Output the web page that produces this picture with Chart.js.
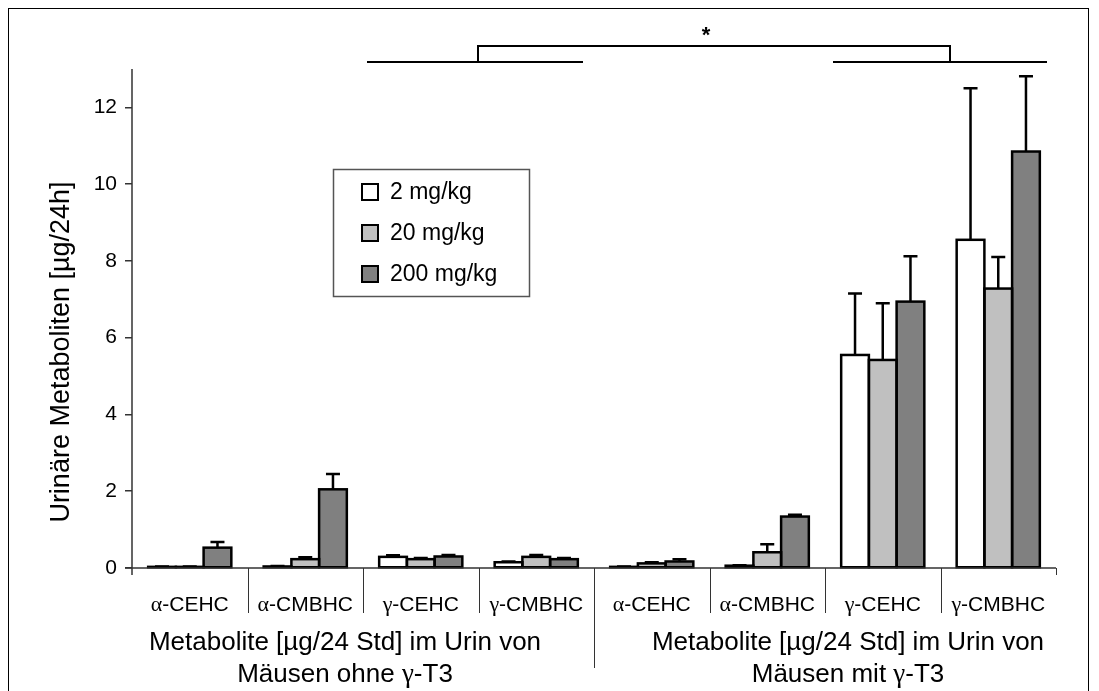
<!DOCTYPE html>
<html>
<head>
<meta charset="utf-8">
<script src="https://cdn.jsdelivr.net/npm/chart.js@4.4.1/dist/chart.umd.min.js"></script>
<style>
  body { margin: 0; background: #fff; }
  #wrap { width: 1099px; height: 691px; }
</style>
</head>
<body>
<div id="wrap"><canvas id="chart" width="1099" height="691"></canvas></div>
<script>
// Urinary metabolites per dose group, mice without / with gamma-T3
const categories = ['α-CEHC', 'α-CMBHC', 'γ-CEHC', 'γ-CMBHC', 'α-CEHC', 'α-CMBHC', 'γ-CEHC', 'γ-CMBHC'];
const groupLabels = [
  ['Metabolite [µg/24 Std] im Urin von', 'Mäusen ohne γ-T3'],
  ['Metabolite [µg/24 Std] im Urin von', 'Mäusen mit γ-T3']
];
const seriesNames = ['2 mg/kg', '20 mg/kg', '200 mg/kg'];

const dose2   = [0.03, 0.04, 0.29, 0.15, 0.03, 0.06, 5.55, 8.55];
const dose20  = [0.03, 0.23, 0.23, 0.29, 0.12, 0.41, 5.42, 7.28];
const dose200 = [0.53, 2.05, 0.30, 0.23, 0.17, 1.34, 6.94, 10.85];

// upper standard deviation
const err2   = [0.01, 0.01, 0.04, 0.02, 0.01, 0.01, 1.60, 3.95];
const err20  = [0.01, 0.05, 0.03, 0.05, 0.03, 0.21, 1.48, 0.82];
const err200 = [0.15, 0.40, 0.04, 0.03, 0.06, 0.05, 1.18, 1.96];

const yTicks = [0, 2, 4, 6, 8, 10, 12];
const yTitle = 'Urinäre Metaboliten [µg/24h]';

const colors = ['#ffffff', '#c0c0c0', '#808080'];
const SANS = '"Liberation Sans", Arial, sans-serif';
const SERIF = '"Liberation Serif", "Times New Roman", serif';

const errors = [err2, err20, err200];

// bar outlines centred on the edges (Excel style) + upper error bars
const barExtras = {
  id: 'barExtras',
  afterDatasetsDraw(chart) {
    const ctx = chart.ctx;
    const y = chart.scales.y;
    ctx.save();
    ctx.strokeStyle = '#000';
    ctx.lineWidth = 2.5;
    ctx.lineJoin = 'miter';
    chart.data.datasets.forEach((ds, i) => {
      chart.getDatasetMeta(i).data.forEach(bar => {
        const p = bar.getProps(['x', 'y', 'base', 'width'], true);
        ctx.strokeRect(p.x - p.width / 2, p.y, p.width, p.base - p.y);
      });
    });
    chart.data.datasets.forEach((ds, i) => {
      chart.getDatasetMeta(i).data.forEach((bar, j) => {
        const top = y.getPixelForValue(ds.data[j] + errors[i][j]);
        ctx.beginPath();
        ctx.moveTo(bar.x, bar.y);
        ctx.lineTo(bar.x, top);
        ctx.moveTo(bar.x - 7, top);
        ctx.lineTo(bar.x + 7, top);
        ctx.stroke();
      });
    });
    ctx.restore();
  }
};

// axes, category labels, group labels, legend, bracket, frame
const decorations = {
  id: 'decorations',
  afterDraw(chart) {
    const ctx = chart.ctx;
    const area = chart.chartArea;
    const x = chart.scales.x;
    const n = categories.length;
    const catW = (area.right - area.left) / n;
    const base = area.bottom;
    ctx.save();

    // frame
    ctx.strokeStyle = '#000';
    ctx.lineWidth = 1;
    ctx.strokeRect(8.5, 8.5, 1080, 720);

    // axes
    ctx.strokeStyle = '#333';
    ctx.lineWidth = 1.5;
    ctx.beginPath();
    ctx.moveTo(area.left - 7, base);
    ctx.lineTo(area.right, base);
    ctx.moveTo(area.left, area.top);
    ctx.lineTo(area.left, base + 7);
    ctx.stroke();

    // category separators
    ctx.lineWidth = 1;
    ctx.beginPath();
    for (let k = 1; k <= n; k++) {
      const xp = Math.round(area.left + k * catW) + 0.5;
      let len = 45;
      if (k === n / 2) len = 100;
      if (k === n) len = 7;
      ctx.moveTo(xp, base);
      ctx.lineTo(xp, base + len);
    }
    ctx.stroke();

    // category labels, greek letter in serif
    ctx.fillStyle = '#000';
    ctx.textBaseline = 'alphabetic';
    ctx.textAlign = 'left';
    categories.forEach((c, i) => {
      const cx = x.getPixelForValue(i);
      const greek = c.charAt(0);
      const rest = c.slice(1);
      ctx.font = '22px ' + SERIF;
      const gw = ctx.measureText(greek).width;
      ctx.font = '21px ' + SANS;
      const rw = ctx.measureText(rest).width;
      let sx = cx - (gw + rw) / 2;
      ctx.font = '22px ' + SERIF;
      ctx.fillText(greek, sx, 611);
      ctx.font = '21px ' + SANS;
      ctx.fillText(rest, sx + gw, 611);
    });

    // group labels (second line contains greek gamma)
    const groupCenters = [345, 848];
    groupLabels.forEach((lines, g) => {
      ctx.font = '26px ' + SANS;
      ctx.textAlign = 'center';
      ctx.fillText(lines[0], groupCenters[g], 650);
      const parts = lines[1].split('γ');
      ctx.textAlign = 'left';
      const w0 = ctx.measureText(parts[0]).width;
      const w2 = ctx.measureText(parts[1]).width;
      ctx.font = '27px ' + SERIF;
      const wg = ctx.measureText('γ').width;
      let sx = groupCenters[g] - (w0 + wg + w2) / 2;
      ctx.font = '26px ' + SANS;
      ctx.fillText(parts[0], sx, 682);
      ctx.font = '27px ' + SERIF;
      ctx.fillText('γ', sx + w0, 682);
      ctx.font = '26px ' + SANS;
      ctx.fillText(parts[1], sx + w0 + wg, 682);
    });

    // y axis title
    ctx.save();
    ctx.translate(62, 352);
    ctx.rotate(-Math.PI / 2);
    ctx.textAlign = 'center';
    ctx.textBaseline = 'middle';
    ctx.font = '27px ' + SANS;
    ctx.fillText(yTitle, 0, 0);
    ctx.restore();

    // legend
    ctx.fillStyle = '#fff';
    ctx.fillRect(333, 169, 196, 127);
    ctx.strokeStyle = '#555';
    ctx.lineWidth = 1.5;
    ctx.strokeRect(333.5, 169.5, 196, 127);
    const rows = [192, 233, 274];
    chart.data.datasets.forEach((ds, i) => {
      ctx.fillStyle = ds.backgroundColor;
      ctx.fillRect(362, rows[i] - 8, 16, 16);
      ctx.strokeStyle = '#000';
      ctx.lineWidth = 2;
      ctx.strokeRect(362, rows[i] - 8, 16, 16);
      ctx.fillStyle = '#000';
      ctx.font = '23px ' + SANS;
      ctx.textAlign = 'left';
      ctx.textBaseline = 'middle';
      ctx.fillText(ds.label, 390, rows[i] + 1);
    });

    // significance bracket
    ctx.strokeStyle = '#000';
    ctx.lineWidth = 2;
    ctx.beginPath();
    ctx.moveTo(367, 62); ctx.lineTo(583, 62);
    ctx.moveTo(833, 62); ctx.lineTo(1047, 62);
    ctx.moveTo(478, 62); ctx.lineTo(478, 46); ctx.lineTo(950, 46); ctx.lineTo(950, 62);
    ctx.stroke();
    ctx.fillStyle = '#000';
    ctx.font = 'bold 22px ' + SANS;
    ctx.textAlign = 'center';
    ctx.textBaseline = 'middle';
    ctx.fillText('*', 706, 36);

    ctx.restore();
  }
};

new Chart(document.getElementById('chart'), {
  type: 'bar',
  data: {
    labels: categories,
    datasets: [dose2, dose20, dose200].map((d, i) => ({
      label: seriesNames[i],
      data: d,
      backgroundColor: colors[i],
      borderWidth: 0,
      inflateAmount: 0,
      categoryPercentage: 0.72,
      barPercentage: 1
    }))
  },
  options: {
    responsive: false,
    animation: false,
    devicePixelRatio: 1,
    layout: { padding: { top: 69, right: 43, bottom: 0, left: 0 } },
    plugins: {
      legend: { display: false },
      tooltip: { enabled: false }
    },
    scales: {
      x: {
        grid: { display: false },
        border: { display: false },
        ticks: { display: false },
        afterFit: s => { s.height = 123; }
      },
      y: {
        min: 0,
        max: 13,
        afterBuildTicks: axis => { axis.ticks = yTicks.map(v => ({ value: v })); },
        grid: { drawOnChartArea: false, drawTicks: true, tickLength: 7, tickColor: '#333', lineWidth: 1.5 },
        border: { display: false },
        ticks: {
          color: '#000',
          padding: 8,
          font: { family: SANS, size: 21 }
        },
        afterFit: s => { s.width = 132; }
      }
    }
  },
  plugins: [barExtras, decorations]
});
</script>
</body>
</html>
